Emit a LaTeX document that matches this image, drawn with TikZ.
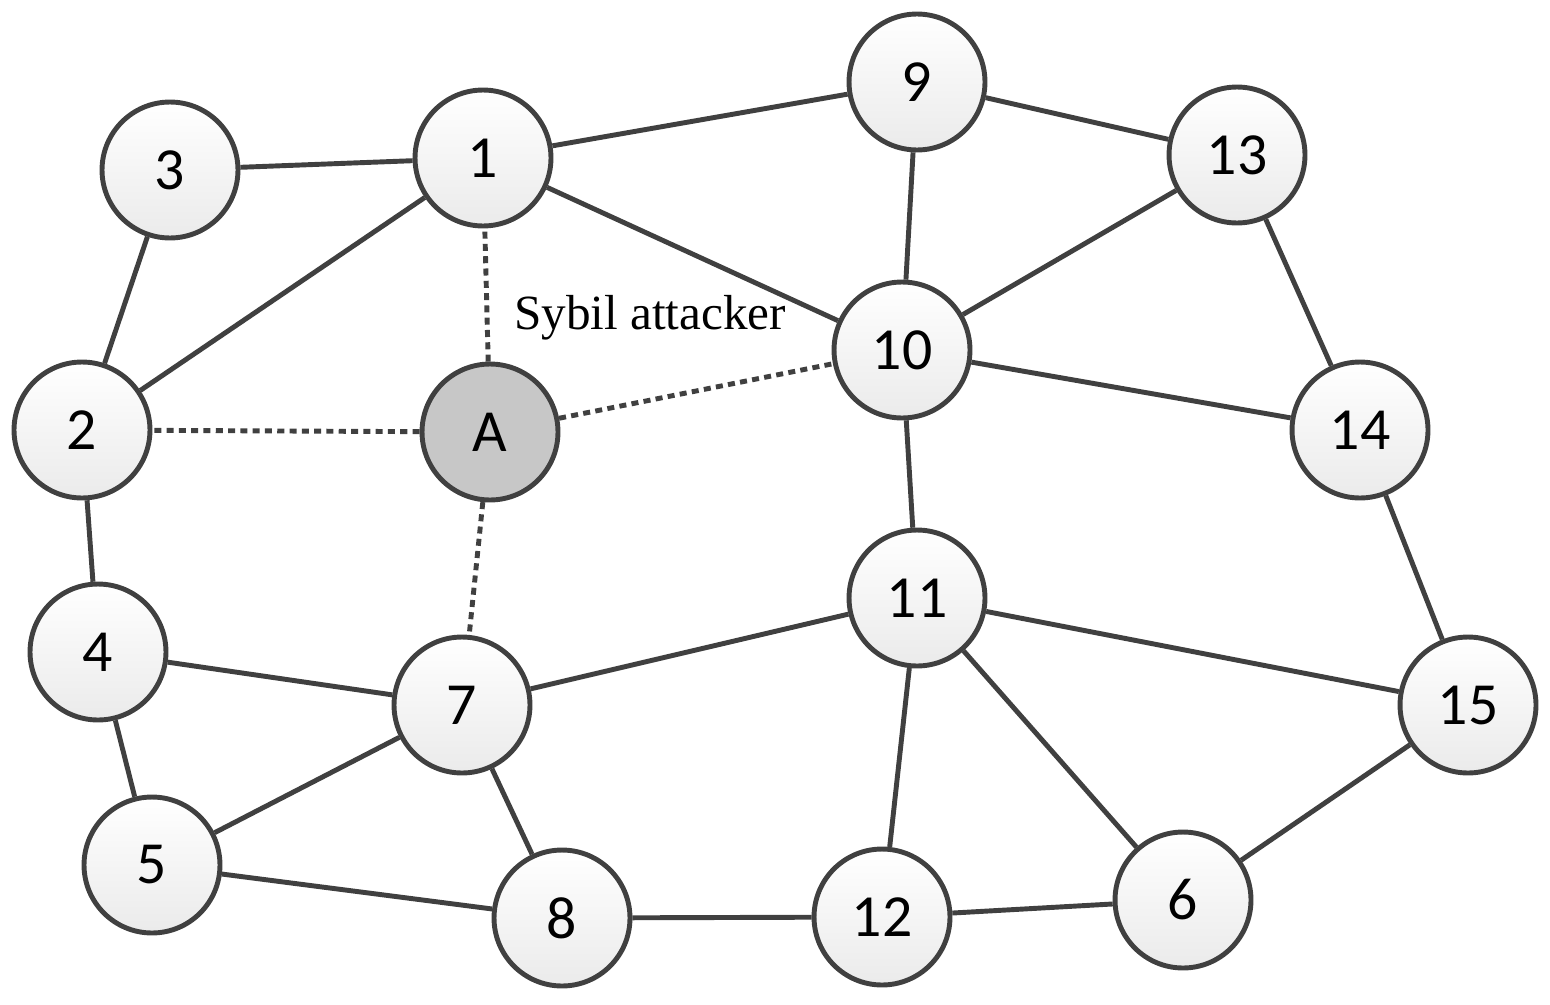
\documentclass[tikz,border=0pt]{standalone}
\usepackage{fontspec}
\newfontfamily\numfont{Carlito}
\setmainfont{Liberation Serif}
\definecolor{edgegray}{RGB}{64,64,64}
\tikzset{
  peer/.style={circle, draw=edgegray, line width=2.8pt, minimum size=2.72cm,
    top color=white, bottom color=black!8, font=\numfont\fontsize{34}{40}\selectfont},
  sybil/.style={peer, top color=black!22, bottom color=black!22},
  link/.style={draw=edgegray, line width=2.8pt},
  fake/.style={link, dash pattern=on 4pt off 3pt}
}
\begin{document}
\begin{tikzpicture}[x=0.02cm,y=-0.02cm]
  \useasboundingbox (0,0) rectangle (1550,1004);
  % peers
  \node[peer] (n3) at (170,170) {3};
  \node[peer] (n1) at (483,158) {1};
  \node[peer] (n9) at (917,82) {9};
  \node[peer] (n13) at (1237,155) {13};
  \node[peer] (n2) at (82,430) {2};
  \node[sybil] (nA) at (490,432) {A};
  \node[peer] (n10) at (902,350) {10};
  \node[peer] (n14) at (1360,430) {14};
  \node[peer] (n4) at (98,652) {4};
  \node[peer] (n7) at (462,705) {7};
  \node[peer] (n11) at (917,598) {11};
  \node[peer] (n15) at (1468,705) {15};
  \node[peer] (n5) at (152,865) {5};
  \node[peer] (n8) at (562,918) {8};
  \node[peer] (n12) at (882,917) {12};
  \node[peer] (n6) at (1183,900) {6};
  \node[font=\fontsize{28}{32}\selectfont] (lbl) at (650,318) {Sybil attacker};
  % honest links
  \foreach \a/\b in {3/1,1/9,1/10,1/2,3/2,9/10,9/13,13/10,13/14,10/14,10/11,
      2/4,4/7,4/5,5/7,5/8,7/8,7/11,11/15,11/12,11/6,14/15,8/12,12/6,6/15}
    \path[link] (n\a) -- (n\b);
  % attack links
  \foreach \b in {1,2,10,7}
    \path[fake] (nA) -- (n\b);
\end{tikzpicture}
\end{document}
